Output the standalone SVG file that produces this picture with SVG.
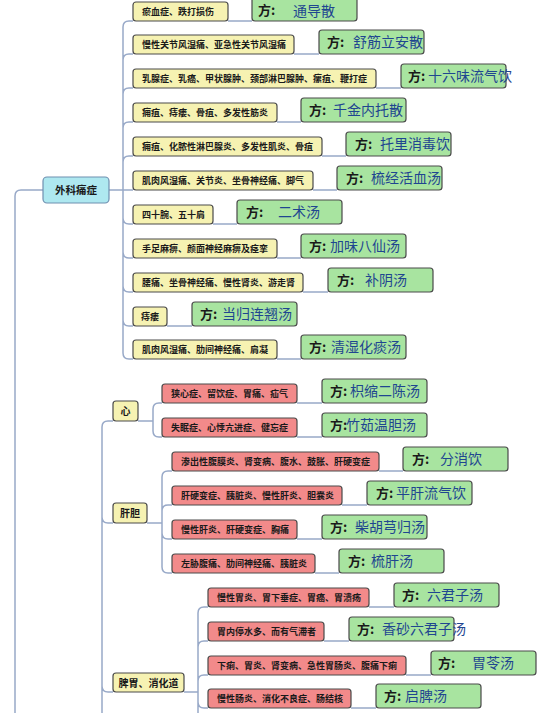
<svg xmlns="http://www.w3.org/2000/svg" width="540" height="713" viewBox="0 0 540 713">
<style>
text{font-family:'Noto Sans CJK SC','Noto Sans',sans-serif}
.c{fill:none;stroke:#98a9c8;stroke-width:1.5}
.y{fill:#f6f2b2;stroke:#4a4a4a;stroke-width:1.2}
.p{fill:#f28a8a;stroke:#4a4a4a;stroke-width:1.2}
.g{fill:#a8e4a0;stroke:#4a4a4a;stroke-width:1.2}
.k{fill:#aee8f0;stroke:#6f8fb0;stroke-width:1.2}
.t{font-size:9px;font-weight:bold;fill:#1a1a1a}
.m{font-size:10.5px;font-weight:bold;fill:#1a1a1a;text-anchor:middle}
.f{font-size:13px;font-weight:bold;fill:#1a1a1a}
.n{font-size:14px;fill:#1f4690}
</style>
<rect width="540" height="713" fill="#ffffff"/>
<g id="connectors">
<path class="c" d="M43 190H21Q15 190 15 196V713"/>
<path class="c" d="M109 190H133M123 190V27Q123 21 129 21H133M123 190V60Q123 54 129 54H133M123 190V94Q123 88 129 88H133M123 190V128Q123 122 129 122H133M123 190V162Q123 156 129 156H133M123 190V218Q123 224 129 224H133M123 190V252Q123 258 129 258H133M123 190V286Q123 292 129 292H133M123 190V320Q123 326 129 326H133M123 190V353Q123 359 129 359H133"/>
<path class="c" d="M228 21H252M294 54H319M376 88H401M277 122H301M322 156H346M313 190H337M213 224H237M277 258H301M303 292H328M167 326H192M277 359H301"/>
<path class="c" d="M113 421H108Q102 421 102 427V713M102 517Q102 523 108 523H113M102 686Q102 692 108 692H113"/>
<path class="c" d="M138 421H153M153 421V409Q153 403 159 403H162M153 421V431Q153 437 159 437H162"/>
<path class="c" d="M297 403H322M297 437H322"/>
<path class="c" d="M147 523H162M162 523V477Q162 471 168 471H172M162 523V511Q162 505 168 505H172M162 523V533Q162 539 168 539H172M162 523V567Q162 573 168 573H172"/>
<path class="c" d="M379 471H403M342 505H367M297 539H322M315 573H339"/>
<path class="c" d="M184 692H198M198 692V613Q198 607 204 607H208M198 692V647Q198 641 204 641H208M198 692V681Q198 675 204 675H208M198 692V702Q198 708 204 708H208M198 692V713"/>
<path class="c" d="M369 607H394M324 641H349M406 675H431M351 708H376"/>
</g>
<g id="n-waike"><rect class="k" x="43" y="177" width="66" height="26" rx="4"/><text class="m" x="76" y="194">外科痛症</text></g>
<g id="n-xin"><rect class="y" x="113" y="401" width="25" height="20" rx="3"/><text class="m" x="125.5" y="415" style="font-size:10px">心</text></g>
<g id="n-gandan"><rect class="y" x="113" y="503" width="34" height="20" rx="3"/><text class="m" x="130" y="517" style="font-size:10px">肝胆</text></g>
<g id="n-piwei"><rect class="y" x="113" y="673" width="71" height="19" rx="3"/><text class="m" x="148.5" y="686.5" style="font-size:10px">脾胃、消化道</text></g>

<g id="d1"><rect class="y" x="133" y="2" width="95" height="19" rx="3"/><text class="t" x="142" y="15">瘀血症、跌打损伤</text></g>
<g id="r1"><rect class="g" x="252" y="-3" width="105" height="24" rx="3"/><text class="f" x="258" y="15">方:</text><text class="n" x="293" y="15.5">通导散</text></g>
<g id="d2"><rect class="y" x="133" y="35" width="161" height="19" rx="3"/><text class="t" x="142" y="48">慢性关节风湿痛、亚急性关节风湿痛</text></g>
<g id="r2"><rect class="g" x="319" y="30" width="105" height="24" rx="3"/><text class="f" x="327" y="47">方:</text><text class="n" x="353" y="47">舒筋立安散</text></g>
<g id="d3"><rect class="y" x="133" y="69" width="243" height="19" rx="3"/><text class="t" x="142" y="82">乳腺症、乳癌、甲状腺肿、颈部淋巴腺肿、瘰疽、鞭打症</text></g>
<g id="r3"><rect class="g" x="401" y="64" width="105" height="24" rx="3"/><text class="f" x="408" y="81">方:</text><text class="n" x="428" y="81">十六味流气饮</text></g>
<g id="d4"><rect class="y" x="133" y="103" width="144" height="19" rx="3"/><text class="t" x="142" y="116">痈疽、痔瘘、骨疽、多发性筋炎</text></g>
<g id="r4"><rect class="g" x="301" y="98" width="105" height="24" rx="3"/><text class="f" x="309" y="115">方:</text><text class="n" x="333" y="115">千金内托散</text></g>
<g id="d5"><rect class="y" x="133" y="137" width="189" height="19" rx="3"/><text class="t" x="142" y="150">痈疽、化脓性淋巴腺炎、多发性肌炎、骨疽</text></g>
<g id="r5"><rect class="g" x="346" y="132" width="105" height="24" rx="3"/><text class="f" x="355" y="149">方:</text><text class="n" x="380" y="149">托里消毒饮</text></g>
<g id="d6"><rect class="y" x="133" y="171" width="180" height="19" rx="3"/><text class="t" x="142" y="184">肌肉风湿痛、关节炎、坐骨神经痛、脚气</text></g>
<g id="r6"><rect class="g" x="337" y="166" width="105" height="24" rx="3"/><text class="f" x="346" y="183">方:</text><text class="n" x="371" y="183">梳经活血汤</text></g>
<g id="d7"><rect class="y" x="133" y="205" width="80" height="19" rx="3"/><text class="t" x="142" y="218">四十腕、五十肩</text></g>
<g id="r7"><rect class="g" x="237" y="200" width="105" height="24" rx="3"/><text class="f" x="246" y="217">方:</text><text class="n" x="278" y="217">二术汤</text></g>
<g id="d8"><rect class="y" x="133" y="239" width="144" height="19" rx="3"/><text class="t" x="142" y="252">手足麻痹、颜面神经麻痹及痉挛</text></g>
<g id="r8"><rect class="g" x="301" y="234" width="105" height="24" rx="3"/><text class="f" x="309" y="251">方:</text><text class="n" x="330" y="251">加味八仙汤</text></g>
<g id="d9"><rect class="y" x="133" y="273" width="170" height="19" rx="3"/><text class="t" x="142" y="286">腰痛、坐骨神经痛、慢性肾炎、游走肾</text></g>
<g id="r9"><rect class="g" x="328" y="268" width="105" height="24" rx="3"/><text class="f" x="337" y="285">方:</text><text class="n" x="365" y="285">补阴汤</text></g>
<g id="d10"><rect class="y" x="133" y="307" width="34" height="19" rx="3"/><text class="t" x="141" y="320">痔瘘</text></g>
<g id="r10"><rect class="g" x="192" y="302" width="105" height="24" rx="3"/><text class="f" x="200" y="319">方:</text><text class="n" x="222" y="319">当归连翘汤</text></g>
<g id="d11"><rect class="y" x="133" y="340" width="144" height="19" rx="3"/><text class="t" x="142" y="353">肌肉风湿痛、肋间神经痛、肩凝</text></g>
<g id="r11"><rect class="g" x="301" y="335" width="105" height="24" rx="3"/><text class="f" x="309" y="352">方:</text><text class="n" x="331" y="352">清湿化痰汤</text></g>

<g id="d12"><rect class="p" x="162" y="384" width="135" height="19" rx="3"/><text class="t" x="171" y="397">狭心症、留饮症、胃痛、疝气</text></g>
<g id="r12"><rect class="g" x="322" y="379" width="105" height="24" rx="3"/><text class="f" x="330" y="396">方:</text><text class="n" x="350" y="396">枳缩二陈汤</text></g>
<g id="d13"><rect class="p" x="162" y="418" width="135" height="19" rx="3"/><text class="t" x="171" y="431">失眠症、心悸亢进症、健忘症</text></g>
<g id="r13"><rect class="g" x="322" y="413" width="105" height="24" rx="3"/><text class="f" x="330" y="430">方:</text><text class="n" x="346" y="430">竹茹温胆汤</text></g>

<g id="d14"><rect class="p" x="172" y="452" width="207" height="19" rx="3"/><text class="t" x="181" y="465">渗出性腹膜炎、肾变病、腹水、鼓胀、肝硬变症</text></g>
<g id="r14"><rect class="g" x="403" y="447" width="105" height="24" rx="3"/><text class="f" x="412" y="464">方:</text><text class="n" x="440" y="464">分消饮</text></g>
<g id="d15"><rect class="p" x="172" y="486" width="170" height="19" rx="3"/><text class="t" x="181" y="499">肝硬变症、胰脏炎、慢性肝炎、胆囊炎</text></g>
<g id="r15"><rect class="g" x="367" y="481" width="105" height="24" rx="3"/><text class="f" x="376" y="498">方:</text><text class="n" x="396" y="498">平肝流气饮</text></g>
<g id="d16"><rect class="p" x="172" y="520" width="125" height="19" rx="3"/><text class="t" x="181" y="533">慢性肝炎、肝硬变症、胸痛</text></g>
<g id="r16"><rect class="g" x="322" y="515" width="105" height="24" rx="3"/><text class="f" x="330" y="532">方:</text><text class="n" x="355" y="532">柴胡芎归汤</text></g>
<g id="d17"><rect class="p" x="172" y="554" width="143" height="19" rx="3"/><text class="t" x="181" y="567">左胁腹痛、肋间神经痛、胰脏炎</text></g>
<g id="r17"><rect class="g" x="339" y="549" width="105" height="24" rx="3"/><text class="f" x="348" y="566">方:</text><text class="n" x="371" y="566">梳肝汤</text></g>

<g id="d18"><rect class="p" x="208" y="588" width="161" height="19" rx="3"/><text class="t" x="217" y="601">慢性胃炎、胃下垂症、胃癌、胃溃疡</text></g>
<g id="r18"><rect class="g" x="394" y="583" width="105" height="24" rx="3"/><text class="f" x="402" y="600">方:</text><text class="n" x="427" y="600">六君子汤</text></g>
<g id="d19"><rect class="p" x="208" y="622" width="116" height="19" rx="3"/><text class="t" x="217" y="635">胃内停水多、而有气滞者</text></g>
<g id="r19"><rect class="g" x="349" y="617" width="105" height="24" rx="3"/><text class="f" x="357" y="634">方:</text><text class="n" x="382" y="634">香砂六君子汤</text></g>
<g id="d20"><rect class="p" x="208" y="656" width="198" height="19" rx="3"/><text class="t" x="217" y="669">下痢、胃炎、肾变病、急性胃肠炎、腹痛下痢</text></g>
<g id="r20"><rect class="g" x="431" y="651" width="105" height="24" rx="3"/><text class="f" x="438" y="668">方:</text><text class="n" x="472" y="668">胃苓汤</text></g>
<g id="d21"><rect class="p" x="208" y="689" width="143" height="19" rx="3"/><text class="t" x="217" y="702">慢性肠炎、消化不良症、肠结核</text></g>
<g id="r21"><rect class="g" x="376" y="684" width="105" height="24" rx="3"/><text class="f" x="384" y="701">方:</text><text class="n" x="405" y="701">启脾汤</text></g>
</svg>
